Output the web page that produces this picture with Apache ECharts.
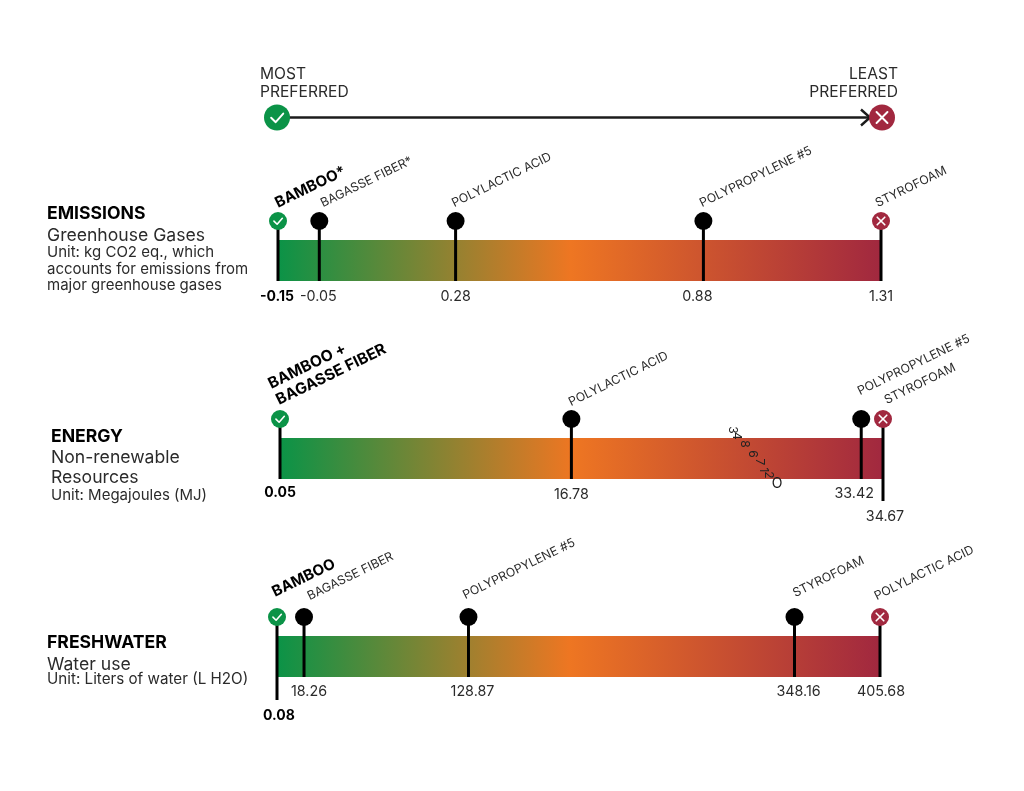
<!DOCTYPE html>
<html><head><meta charset="utf-8">
<style>html,body{margin:0;padding:0;background:#fff}#c{width:1024px;height:791px}</style>
<script src="https://cdn.jsdelivr.net/npm/echarts@6/dist/echarts.min.js"></script>
</head><body><div id="c"></div>
<script>
// ---- data ----
const preferenceEnds = ['MOST\nPREFERRED', 'LEAST\nPREFERRED'];
const emissionsMaterials = ['BAMBOO*', 'BAGASSE FIBER*', 'POLYLACTIC ACID', 'POLYPROPYLENE #5', 'STYROFOAM'];
const emissionsValues = [-0.15, -0.05, 0.28, 0.88, 1.31];
const energyMaterials = ['BAMBOO +\nBAGASSE FIBER', 'POLYLACTIC ACID', 'POLYPROPYLENE #5', 'STYROFOAM'];
const energyValues = [0.05, 16.78, 33.42, 34.67];
const freshwaterMaterials = ['BAMBOO', 'BAGASSE FIBER', 'POLYPROPYLENE #5', 'STYROFOAM', 'POLYLACTIC ACID'];
const freshwaterValues = [0.08, 18.26, 128.87, 348.16, 405.68];
const emissionsText = ['EMISSIONS', 'Greenhouse Gases', 'Unit: kg CO2 eq., which', 'accounts for emissions from', 'major greenhouse gases'];
const energyText = ['ENERGY', 'Non-renewable', 'Resources', 'Unit: Megajoules (MJ)'];
const freshwaterText = ['FRESHWATER', 'Water use', 'Unit: Liters of water (L H2O)'];
const strayGlyphs = ['3', '4', '8', '6', '7', '1', '2', 'O'];

// ---- layout and style ----
const FONT = 'Inter';
const GREEN = '#0b9347', RED = '#a1283f', INK = '#2b2b2b';
const rows = [
  { materials: emissionsMaterials, values: emissionsValues, left: 278, top: 240, bold: 15,
    nameShift: [[2,-28],[6,-28],[1,-28],[1,-28],[-1,-28]],
    valueShift: [[-1,16],[-1,16],[0,16],[-6,16],[0,16]], stemExtra: [0,0,0,0,0] },
  { materials: energyMaterials, values: energyValues, left: 280, top: 438, bold: 15.5,
    nameShift: [[1,-29],[2,-27],[1,-38],[6,-29]],
    valueShift: [[0,14],[0,16],[-7,15],[2,38]], stemExtra: [0,0,0,22] },
  { materials: freshwaterMaterials, values: freshwaterValues, left: 277, top: 636, bold: 15,
    nameShift: [[0,-35],[8,-31],[-1,-32],[3,-34],[-1,-31]],
    valueShift: [[2,39],[5,15],[4,15],[4,15],[1,15]], stemExtra: [23,0,0,0,0] }
];
const BAND_W = 603, BAND_H = 41, MARK_UP = 19, MARK_R = 9;

function iconShapes(cx, cy, r, kind) {
  const fill = kind === 'best' ? GREEN : kind === 'worst' ? RED : '#000';
  const out = [{ type: 'circle', shape: { cx, cy, r }, style: { fill }, z2: 5 }];
  const mark = { stroke: '#fff', lineWidth: Math.max(1.6, r * 0.15), fill: null, lineCap: 'round', lineJoin: 'round' };
  if (kind === 'best') {
    out.push({ type: 'polyline', shape: { points: [[cx - r * .45, cy + r * .02], [cx - r * .1, cy + r * .36], [cx + r * .48, cy - r * .3]] }, style: mark, z2: 6 });
  } else if (kind === 'worst') {
    const k = r * .42;
    out.push({ type: 'line', shape: { x1: cx - k, y1: cy - k, x2: cx + k, y2: cy + k }, style: mark, z2: 6 });
    out.push({ type: 'line', shape: { x1: cx - k, y1: cy + k, x2: cx + k, y2: cy - k }, style: mark, z2: 6 });
  }
  return out;
}

const grids = [], xAxes = [], yAxes = [], series = [];
rows.forEach(function (row, i) {
  const lo = row.values[0], hi = row.values[row.values.length - 1];
  grids.push({ left: row.left, top: row.top, width: BAND_W, height: BAND_H });
  xAxes.push({ gridIndex: i, type: 'value', min: lo, max: hi, show: false });
  yAxes.push({ gridIndex: i, type: 'value', min: 0, max: 1, show: false });
  // gradient band
  series.push({
    type: 'custom', xAxisIndex: i, yAxisIndex: i, silent: true, z: 1, clip: false,
    data: [[lo, hi]],
    renderItem: function (p, api) {
      const a = api.coord([api.value(0), 1]), b = api.coord([api.value(1), 0]);
      return { type: 'rect', shape: { x: a[0], y: a[1], width: b[0] - a[0], height: b[1] - a[1] },
        style: { fill: new echarts.graphic.LinearGradient(0, 0, 1, 0, [
          { offset: 0, color: GREEN }, { offset: 0.485, color: '#ee7622' }, { offset: 1, color: RED }]) } };
    }
  });
  // stems, markers, name and value labels
  series.push({
    type: 'custom', xAxisIndex: i, yAxisIndex: i, silent: true, z: 3, clip: false,
    data: row.values.map(function (v, j) { return [v, j]; }),
    renderItem: function (p, api) {
      const j = api.value(1), v = api.value(0);
      const base = api.coord([v, 0]), top = api.coord([v, 1]);
      const x = base[0], kind = j === 0 ? 'best' : j === row.values.length - 1 ? 'worst' : 'mid';
      const my = top[1] - MARK_UP;
      const kids = [{ type: 'line', shape: { x1: x, y1: my, x2: x, y2: base[1] + row.stemExtra[j] },
        style: { stroke: '#000', lineWidth: 3 }, z2: 4 }].concat(iconShapes(x, my, MARK_R, kind));
      kids.push({ type: 'text', x: x + row.nameShift[j][0], y: top[1] + row.nameShift[j][1], rotation: 26 * Math.PI / 180,
        style: { text: row.materials[j], fill: j === 0 ? '#000' : INK, textAlign: 'left', textVerticalAlign: 'bottom', lineHeight: 18,
          font: (j === 0 ? '700 ' + row.bold + 'px ' : '400 12.3px ') + FONT } });
      kids.push({ type: 'text', x: x + row.valueShift[j][0], y: base[1] + row.valueShift[j][1],
        style: { text: v.toFixed(2), fill: j === 0 ? '#000' : INK, textAlign: 'center', textVerticalAlign: 'middle',
          font: (j === 0 ? '700 14px ' : '400 14.3px ') + FONT } });
      return { type: 'group', children: kids };
    }
  });
});

// header scale: most preferred to least preferred
grids.push({ left: 277, top: 117, width: 605, height: 1 });
xAxes.push({ gridIndex: 3, type: 'value', min: 0, max: 1, show: false });
yAxes.push({ gridIndex: 3, type: 'value', min: 0, max: 1, show: false });
series.push({
  type: 'custom', xAxisIndex: 3, yAxisIndex: 3, silent: true, z: 3, clip: false,
  data: [[0, 0], [1, 1]],
  renderItem: function (p, api) {
    const j = api.value(1), c = api.coord([api.value(0), 0.5]);
    const kids = iconShapes(c[0], c[1], 13, j === 0 ? 'best' : 'worst');
    kids.push({ type: 'text', x: j === 0 ? c[0] - 17 : c[0] + 16, y: c[1] - 16,
      style: { text: preferenceEnds[j], fill: INK, textAlign: j === 0 ? 'left' : 'right', textVerticalAlign: 'bottom', lineHeight: 18, font: '400 15.6px ' + FONT } });
    if (j === 0) {
      const e = api.coord([1, 0.5]);
      const tip = e[0] - 12;
      kids.push({ type: 'line', shape: { x1: c[0], y1: c[1], x2: tip, y2: c[1] }, style: { stroke: '#1c1c1c', lineWidth: 2.4 }, z2: 1 });
      kids.push({ type: 'polyline', shape: { points: [[tip - 9, c[1] - 8], [tip, c[1]], [tip - 9, c[1] + 8]] }, style: { stroke: '#1c1c1c', lineWidth: 2.4, fill: null }, z2: 1 });
    }
    return { type: 'group', children: kids };
  }
});

// left column text
const graphics = [];
function leftBlock(lines, x, ys, sizes) {
  lines.forEach(function (t, k) {
    graphics.push({ type: 'text', x: x, y: ys[k], style: { text: t, fill: k === 0 ? '#000' : INK, textVerticalAlign: 'middle',
      font: (k === 0 ? '700 ' : '400 ') + sizes[k] + 'px ' + FONT } });
  });
}
leftBlock(emissionsText, 47, [214, 236, 252, 269, 285], [17.6, 17.6, 15, 15, 15]);
leftBlock(energyText, 51, [437, 458, 478, 495], [17.6, 17.6, 17.6, 15]);
leftBlock(freshwaterText, 47, [643, 665, 679], [17.6, 17.6, 15.2]);

// stray glyph run lying across the energy band in the source image
const strayAt = [[733,430],[737,436],[745,444],[753,454],[760,462],[764,470],[769,475],[777,484]];
strayGlyphs.forEach(function (g, k) {
  const last = k === strayGlyphs.length - 1;
  graphics.push({ type: 'text', x: strayAt[k][0], y: strayAt[k][1], rotation: last ? 0 : -Math.PI / 2, z: 20,
    style: { text: g, fill: '#222', font: '400 ' + (last ? 14 : 12) + 'px ' + FONT, textAlign: 'center', textVerticalAlign: 'middle' } });
});

const chart = echarts.init(document.getElementById('c'));
chart.setOption({
  animation: false, backgroundColor: '#fff', tooltip: { show: false },
  grid: grids, xAxis: xAxes, yAxis: yAxes, series: series, graphic: graphics
});
</script></body></html>
